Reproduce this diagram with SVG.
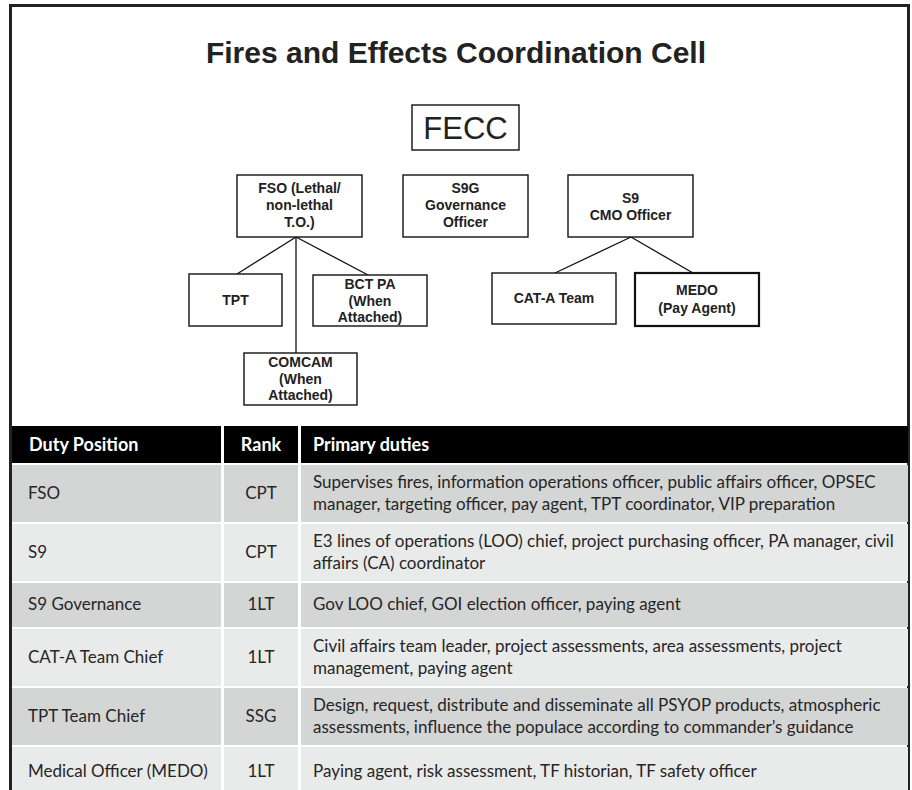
<svg xmlns="http://www.w3.org/2000/svg" width="912" height="790" viewBox="0 0 912 790">
<style>
.box{fill:#fff;stroke:#111;stroke-width:1.4}
.nt{font-family:"Liberation Sans",Arial,sans-serif;font-weight:bold;font-size:14px;fill:#222;text-anchor:middle}
.conn line{stroke:#111;stroke-width:1.3}
.hd{font-family:Lato,"Open Sans",sans-serif;font-weight:bold;font-size:18px;fill:#fff}
.tc{font-family:Lato,"Open Sans",sans-serif;font-size:17px;fill:#262626}
.dk{fill:#d4d5d5}
.lt{fill:#e9eaea}
</style>
<rect x="0" y="0" width="912" height="790" fill="#fff"/>
<rect x="10.5" y="5.5" width="898" height="800" fill="none" stroke="#222" stroke-width="3"/>
<text x="456" y="63" text-anchor="middle" font-family="Liberation Sans,Arial,sans-serif" font-weight="bold" font-size="30" fill="#222">Fires and Effects Coordination Cell</text>

<g class="conn">
<line x1="296" y1="237" x2="237" y2="274"/>
<line x1="296" y1="237" x2="368" y2="275"/>
<line x1="296" y1="237" x2="296" y2="353"/>
<line x1="631" y1="237" x2="555" y2="273"/>
<line x1="631" y1="237" x2="693" y2="273"/>
</g>

<g id="fecc">
<rect class="box" x="412" y="105" width="107" height="45"/>
<text x="465.5" y="139" text-anchor="middle" font-family="Liberation Sans,Arial,sans-serif" font-size="31" fill="#222">FECC</text>
</g>
<g id="fso">
<rect class="box" x="237" y="175" width="125" height="62"/>
<text class="nt" x="299.5" y="193">FSO (Lethal/</text>
<text class="nt" x="299.5" y="210">non-lethal</text>
<text class="nt" x="299.5" y="227">T.O.)</text>
</g>
<g id="s9g">
<rect class="box" x="403" y="175" width="125" height="62"/>
<text class="nt" x="465.5" y="193">S9G</text>
<text class="nt" x="465.5" y="210">Governance</text>
<text class="nt" x="465.5" y="227">Officer</text>
</g>
<g id="s9">
<rect class="box" x="568" y="175" width="125" height="62"/>
<text class="nt" x="630.5" y="203">S9</text>
<text class="nt" x="630.5" y="220">CMO Officer</text>
</g>
<g id="tpt">
<rect class="box" x="189" y="274" width="93" height="52"/>
<text class="nt" x="235.5" y="305">TPT</text>
</g>
<g id="bctpa">
<rect class="box" x="313" y="275" width="114" height="51"/>
<text class="nt" x="370" y="289">BCT PA</text>
<text class="nt" x="370" y="306">(When</text>
<text class="nt" x="370" y="322">Attached)</text>
</g>
<g id="comcam">
<rect class="box" x="244" y="353" width="113" height="52"/>
<text class="nt" x="300.5" y="367">COMCAM</text>
<text class="nt" x="300.5" y="384">(When</text>
<text class="nt" x="300.5" y="400">Attached)</text>
</g>
<g id="cata">
<rect class="box" x="492" y="273" width="124" height="51"/>
<text class="nt" x="554" y="303">CAT-A Team</text>
</g>
<g id="medo">
<rect class="box" x="635" y="273" width="124" height="53" style="stroke-width:2.2"/>
<text class="nt" x="697" y="295">MEDO</text>
<text class="nt" x="697" y="313">(Pay Agent)</text>
</g>

<g id="table">
<rect x="12" y="426" width="209" height="37" fill="#000"/>
<rect x="224" y="426" width="74" height="37" fill="#000"/>
<rect x="301" y="426" width="607" height="37" fill="#000"/>
<text class="hd" x="29" y="451">Duty Position</text>
<text class="hd" x="261" y="451" text-anchor="middle">Rank</text>
<text class="hd" x="313" y="451">Primary duties</text>

<rect class="dk" x="12" y="465" width="209" height="57"/>
<rect class="dk" x="224" y="465" width="74" height="57"/>
<rect class="dk" x="301" y="465" width="607" height="57"/>
<text class="tc" x="28" y="499">FSO</text>
<text class="tc" x="261" y="499" text-anchor="middle">CPT</text>
<text class="tc" x="313" y="488">Supervises fires, information operations officer, public affairs officer, OPSEC</text>
<text class="tc" x="313" y="510">manager, targeting officer, pay agent, TPT coordinator, VIP preparation</text>

<rect class="lt" x="12" y="524" width="209" height="57"/>
<rect class="lt" x="224" y="524" width="74" height="57"/>
<rect class="lt" x="301" y="524" width="607" height="57"/>
<text class="tc" x="28" y="558">S9</text>
<text class="tc" x="261" y="558" text-anchor="middle">CPT</text>
<text class="tc" x="313" y="547">E3 lines of operations (LOO) chief, project purchasing officer, PA manager, civil</text>
<text class="tc" x="313" y="569">affairs (CA) coordinator</text>

<rect class="dk" x="12" y="583" width="209" height="44"/>
<rect class="dk" x="224" y="583" width="74" height="44"/>
<rect class="dk" x="301" y="583" width="607" height="44"/>
<text class="tc" x="28" y="610">S9 Governance</text>
<text class="tc" x="261" y="610" text-anchor="middle">1LT</text>
<text class="tc" x="313" y="610">Gov LOO chief, GOI election officer, paying agent</text>

<rect class="lt" x="12" y="629" width="209" height="57"/>
<rect class="lt" x="224" y="629" width="74" height="57"/>
<rect class="lt" x="301" y="629" width="607" height="57"/>
<text class="tc" x="28" y="663">CAT-A Team Chief</text>
<text class="tc" x="261" y="663" text-anchor="middle">1LT</text>
<text class="tc" x="313" y="652">Civil affairs team leader, project assessments, area assessments, project</text>
<text class="tc" x="313" y="674">management, paying agent</text>

<rect class="dk" x="12" y="688" width="209" height="57"/>
<rect class="dk" x="224" y="688" width="74" height="57"/>
<rect class="dk" x="301" y="688" width="607" height="57"/>
<text class="tc" x="28" y="722">TPT Team Chief</text>
<text class="tc" x="261" y="722" text-anchor="middle">SSG</text>
<text class="tc" x="313" y="711">Design, request, distribute and disseminate all PSYOP products, atmospheric</text>
<text class="tc" x="313" y="733">assessments, influence the populace according to commander’s guidance</text>

<rect class="lt" x="12" y="747" width="209" height="50"/>
<rect class="lt" x="224" y="747" width="74" height="50"/>
<rect class="lt" x="301" y="747" width="607" height="50"/>
<text class="tc" x="28" y="777">Medical Officer (MEDO)</text>
<text class="tc" x="261" y="777" text-anchor="middle">1LT</text>
<text class="tc" x="313" y="777">Paying agent, risk assessment, TF historian, TF safety officer</text>
</g>
</svg>
